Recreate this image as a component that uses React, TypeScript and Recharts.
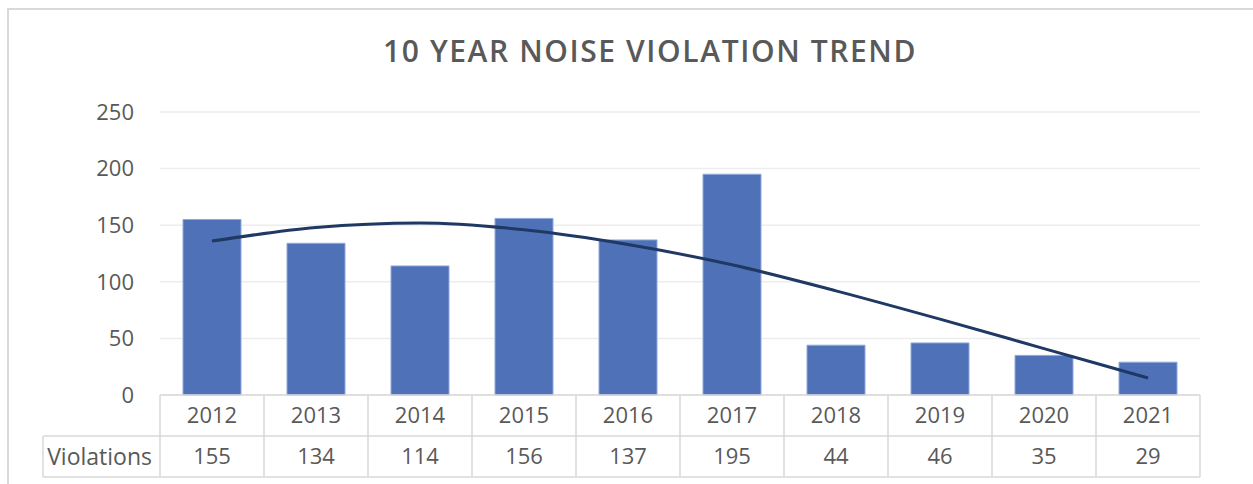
import { Bar, CartesianGrid, ComposedChart, Line, XAxis, YAxis } from 'recharts';

const years = ['2012', '2013', '2014', '2015', '2016', '2017', '2018', '2019', '2020', '2021'];
const violations = [155, 134, 114, 156, 137, 195, 44, 46, 35, 29];
// trendline, one point per year
const trend = [136, 148, 152, 146, 133, 115, 92, 67, 41, 15];
const yTicks = [0, 50, 100, 150, 200, 250];

const data = years.map((year, i) => ({ year, violations: violations[i], trend: trend[i] }));

const FONT = '"Open Sans", "Noto Sans", sans-serif';
const TEXT = '#595959';
const RULE = '#d9d9d9';
const HALF = 52;
const ROW = 41;

function TableTick(props: any) {
  const { x, y, payload, index } = props;
  return (
    <g>
      {index === 0 && (
        <g>
          <line x1={x - HALF} x2={x - HALF} y1={y} y2={y + ROW * 2} stroke={RULE} strokeWidth={1.5} />
          <line x1={43} x2={x - HALF} y1={y + ROW} y2={y + ROW} stroke={RULE} strokeWidth={1.5} />
          <line x1={43} x2={x - HALF} y1={y + ROW * 2} y2={y + ROW * 2} stroke={RULE} strokeWidth={1.5} />
          <line x1={43} x2={43} y1={y + ROW} y2={y + ROW * 2} stroke={RULE} strokeWidth={1.5} />
          <text x={x - HALF - 8} y={y + ROW * 1.5} dy="0.35em" textAnchor="end" fill={TEXT} fontSize={23} fontFamily={FONT}>
            Violations
          </text>
        </g>
      )}
      <line x1={x + HALF} x2={x + HALF} y1={y} y2={y + ROW * 2} stroke={RULE} strokeWidth={1.5} />
      <line x1={x - HALF} x2={x + HALF} y1={y + ROW} y2={y + ROW} stroke={RULE} strokeWidth={1.5} />
      <line x1={x - HALF} x2={x + HALF} y1={y + ROW * 2} y2={y + ROW * 2} stroke={RULE} strokeWidth={1.5} />
      <text x={x} y={y + ROW / 2} dy="0.35em" textAnchor="middle" fill={TEXT} fontSize={22} fontFamily={FONT}>
        {payload.value}
      </text>
      <text x={x} y={y + ROW * 1.5} dy="0.35em" textAnchor="middle" fill={TEXT} fontSize={22} fontFamily={FONT}>
        {violations[index]}
      </text>
    </g>
  );
}

export default function App() {
  return (
    <div
      style={{
        position: 'absolute',
        left: 0,
        top: 0,
        width: 1253,
        height: 484,
        overflow: 'hidden',
        background: '#fff',
      }}
    >
      <div
        style={{
          position: 'absolute',
          left: 7,
          top: 8,
          width: 1400,
          height: 600,
          border: `2px solid ${RULE}`,
        }}
      />
      <div
        style={{
          position: 'absolute',
          left: 0,
          top: 30,
          width: 1300,
          textAlign: 'center',
          fontFamily: FONT,
          fontWeight: 600,
          fontSize: 30,
          letterSpacing: 1.6,
          color: TEXT,
        }}
      >
        10 YEAR NOISE VIOLATION TREND
      </div>
      <div style={{ position: 'absolute', left: 0, top: 0 }}>
        <ComposedChart
          width={1253}
          height={484}
          data={data}
          margin={{ top: 112, right: 53, bottom: 7, left: 0 }}
        >
          <CartesianGrid vertical={false} stroke="#ededed" strokeWidth={1.5} />
          <XAxis
            dataKey="year"
            height={82}
            axisLine={{ stroke: RULE, strokeWidth: 1.5 }}
            tickLine={false}
            tickSize={0}
            tickMargin={0}
            interval={0}
            tick={<TableTick />}
          />
          <YAxis
            width={160}
            domain={[0, 250]}
            ticks={yTicks}
            axisLine={false}
            tickLine={false}
            tickSize={0}
            tickMargin={26}
            tick={{ fill: TEXT, fontSize: 22, fontFamily: FONT }}
          />
          <Bar
            dataKey="violations"
            barSize={58}
            fill="#4f71b8"
            stroke="#8eaadb"
            strokeWidth={1}
            isAnimationActive={false}
          />
          <Line
            dataKey="trend"
            type="monotone"
            stroke="#1f3864"
            strokeWidth={3}
            dot={false}
            activeDot={false}
            isAnimationActive={false}
          />
        </ComposedChart>
      </div>
    </div>
  );
}
